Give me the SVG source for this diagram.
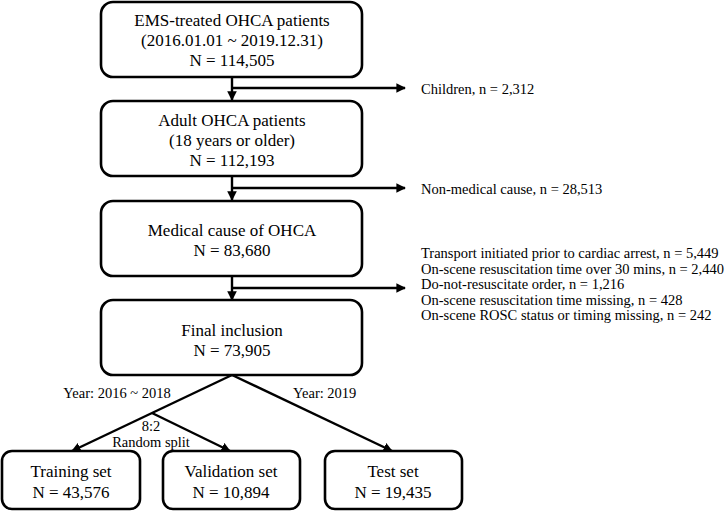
<svg xmlns="http://www.w3.org/2000/svg" width="725" height="512" viewBox="0 0 725 512">
<style>
.box{fill:#fff;stroke:#000;stroke-width:2.6}
.t{font-family:"Liberation Serif","Times New Roman",serif;font-size:17px;text-anchor:middle;fill:#000}
.s{font-family:"Liberation Serif","Times New Roman",serif;font-size:14.5px;fill:#000}
.ln{fill:none;stroke:#000;stroke-width:2.4}
</style>
<defs>
<marker id="ah" viewBox="0 0 10 10" refX="9" refY="5" markerWidth="4" markerHeight="4" orient="auto" markerUnits="strokeWidth">
<path d="M0,0 L10,5 L0,10 z" fill="#000"/>
</marker>
</defs>
<rect width="725" height="512" fill="#fff"/>
<g id="connectors">
<line class="ln" x1="232" y1="77" x2="232" y2="100" marker-end="url(#ah)"/>
<line class="ln" x1="232" y1="88" x2="405" y2="88" marker-end="url(#ah)"/>
<line class="ln" x1="232" y1="176" x2="232" y2="200" marker-end="url(#ah)"/>
<line class="ln" x1="232" y1="188" x2="405" y2="188" marker-end="url(#ah)"/>
<line class="ln" x1="232" y1="276" x2="232" y2="300" marker-end="url(#ah)"/>
<line class="ln" x1="232" y1="288" x2="405" y2="288" marker-end="url(#ah)"/>
<line class="ln" x1="232" y1="375" x2="72" y2="451" marker-end="url(#ah)"/>
<line class="ln" x1="152" y1="413" x2="230" y2="451" marker-end="url(#ah)"/>
<line class="ln" x1="232" y1="375" x2="392" y2="451" marker-end="url(#ah)"/>
</g>
<g id="n1">
<rect class="box" x="101" y="2" width="261" height="75" rx="12"/>
<text class="t" x="232" y="26">EMS-treated OHCA patients</text>
<text class="t" x="232" y="46">(2016.01.01 ~ 2019.12.31)</text>
<text class="t" x="232" y="66">N = 114,505</text>
</g>
<g id="n2">
<rect class="box" x="101" y="101" width="261" height="75" rx="12"/>
<text class="t" x="232" y="126">Adult OHCA patients</text>
<text class="t" x="232" y="146">(18 years or older)</text>
<text class="t" x="232" y="166">N = 112,193</text>
</g>
<g id="n3">
<rect class="box" x="101" y="201" width="261" height="75" rx="12"/>
<text class="t" x="232" y="236">Medical cause of OHCA</text>
<text class="t" x="232" y="256">N = 83,680</text>
</g>
<g id="n4">
<rect class="box" x="101" y="300" width="261" height="75" rx="12"/>
<text class="t" x="232" y="336">Final inclusion</text>
<text class="t" x="232" y="356">N = 73,905</text>
</g>
<g id="e1"><text class="s" x="421" y="94">Children, n = 2,312</text></g>
<g id="e2"><text class="s" x="421" y="194">Non-medical cause, n = 28,513</text></g>
<g id="e3">
<text class="s" x="421" y="258">Transport initiated prior to cardiac arrest, n = 5,449</text>
<text class="s" x="421" y="274">On-scene resuscitation time over 30 mins, n = 2,440</text>
<text class="s" x="421" y="289">Do-not-resuscitate order, n = 1,216</text>
<text class="s" x="421" y="305">On-scene resuscitation time missing, n = 428</text>
<text class="s" x="421" y="320">On-scene ROSC status or timing missing, n = 242</text>
</g>
<g id="labels">
<text class="s" x="117" y="398" text-anchor="middle">Year: 2016 ~ 2018</text>
<text class="s" x="293" y="398">Year: 2019</text>
<text class="s" x="151" y="431" text-anchor="middle">8:2</text>
<text class="s" x="151" y="447" text-anchor="middle">Random split</text>
</g>
<g id="n5">
<rect class="box" x="2" y="451" width="138" height="58" rx="10"/>
<text class="t" x="71" y="477">Training set</text>
<text class="t" x="71" y="498">N = 43,576</text>
</g>
<g id="n6">
<rect class="box" x="163" y="451" width="137" height="58" rx="10"/>
<text class="t" x="231" y="477">Validation set</text>
<text class="t" x="231" y="498">N = 10,894</text>
</g>
<g id="n7">
<rect class="box" x="325" y="451" width="137" height="58" rx="10"/>
<text class="t" x="393" y="477">Test set</text>
<text class="t" x="393" y="498">N = 19,435</text>
</g>
</svg>
